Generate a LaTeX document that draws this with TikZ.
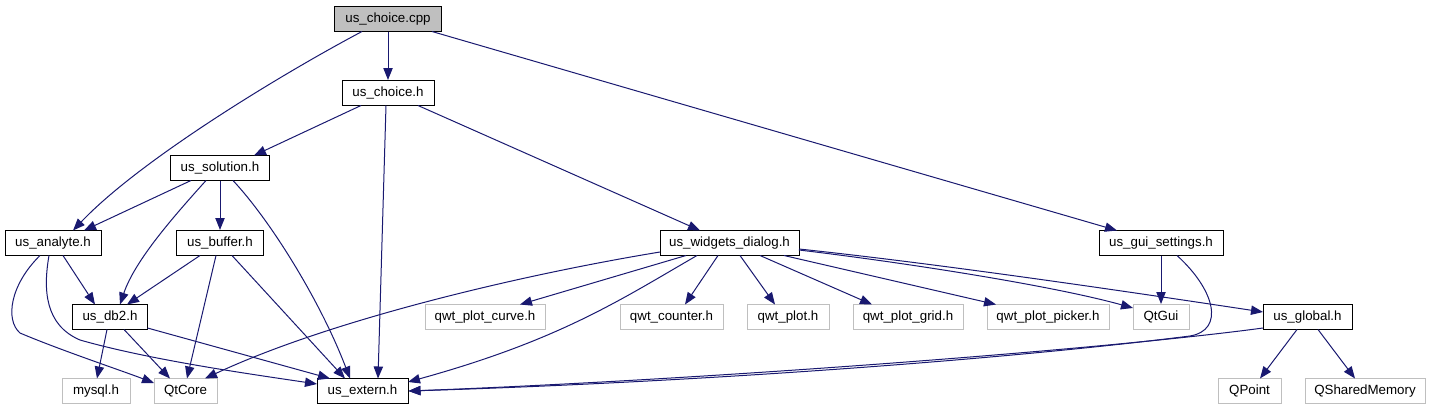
\documentclass[tikz,border=0pt]{standalone}
\usepackage{fontspec}
\setmainfont{Liberation Sans}
\usetikzlibrary{arrows.meta}
\definecolor{edgeblue}{RGB}{25,25,112}
\definecolor{rootfill}{RGB}{191,191,191}
\definecolor{extgray}{RGB}{191,191,191}
\begin{document}
\begin{tikzpicture}[x=0.75pt,y=-0.75pt,
  box/.style={draw=black,line width=0.75pt,fill=white,minimum height=18.75pt,inner sep=0pt,font=\fontsize{10}{12}\selectfont},
  rootbox/.style={box,fill=rootfill},
  extbox/.style={box,draw=extgray},
  dep/.style={draw=edgeblue,line width=0.75pt,-{Triangle[length=9pt,width=7pt]}}]
\useasboundingbox (0,0) rectangle (1431,411);
% nodes
\node[rootbox,minimum width=80.25pt] (cpp) at (388,19) {us\_choice.cpp};
\node[box,minimum width=69pt] (choiceh) at (388,93) {us\_choice.h};
\node[box,minimum width=74.25pt] (solution) at (220,168) {us\_solution.h};
\node[box,minimum width=72pt] (analyte) at (53,243) {us\_analyte.h};
\node[box,minimum width=65.25pt] (buffer) at (220,243) {us\_buffer.h};
\node[box,minimum width=56.25pt] (db2) at (110,317) {us\_db2.h};
\node[extbox,minimum width=51pt] (mysql) at (96,391) {mysql.h};
\node[extbox,minimum width=47.25pt] (qtcore) at (185.5,391) {QtCore};
\node[box,minimum width=68.25pt] (extern) at (362.5,391) {us\_extern.h};
\node[box,minimum width=104.25pt] (widgets) at (729.5,243) {us\_widgets\_dialog.h};
\node[extbox,minimum width=90pt] (curve) at (485,317) {qwt\_plot\_curve.h};
\node[extbox,minimum width=77.25pt] (counter) at (671.5,317) {qwt\_counter.h};
\node[extbox,minimum width=61.5pt] (plot) at (788,317) {qwt\_plot.h};
\node[extbox,minimum width=82.5pt] (grid) at (908,317) {qwt\_plot\_grid.h};
\node[extbox,minimum width=91.5pt] (picker) at (1048,317) {qwt\_plot\_picker.h};
\node[extbox,minimum width=42pt] (qtgui) at (1161,317) {QtGui};
\node[box,minimum width=93pt] (gui) at (1161,243) {us\_gui\_settings.h};
\node[box,minimum width=66.75pt] (global) at (1307.5,317) {us\_global.h};
\node[extbox,minimum width=47.25pt] (qpoint) at (1249.5,391) {QPoint};
\node[extbox,minimum width=90pt] (qshared) at (1365,391) {QSharedMemory};
% edges
\draw[dep] (cpp.south) -- (choiceh.north);
\draw[dep] ([shift={(-26,12.5)}]cpp.center) .. controls (280,75) and (140,160) .. ([shift={(20,-12.5)}]analyte.center);
\draw[dep] ([shift={(44,12.5)}]cpp.center) -- ([shift={(-44,-12.5)}]gui.center);
\draw[dep] ([shift={(-27,12.5)}]choiceh.center) -- ([shift={(34,-12.5)}]solution.center);
\draw[dep] ([shift={(-2,12.5)}]choiceh.center) -- ([shift={(15.5,-12.5)}]extern.center);
\draw[dep] ([shift={(30,12.5)}]choiceh.center) -- ([shift={(-29.5,-12.5)}]widgets.center);
\draw[dep] ([shift={(-29,12.5)}]solution.center) -- ([shift={(31,-12.5)}]analyte.center);
\draw[dep] (solution.south) -- (buffer.north);
\draw[dep] ([shift={(-14,12.5)}]solution.center) .. controls (175,215) and (135,260) .. ([shift={(10,-12.5)}]db2.center);
\draw[dep] ([shift={(13,12.5)}]solution.center) .. controls (270,220) and (320,300) .. ([shift={(-12.5,-12.5)}]extern.center);
\draw[dep] ([shift={(10,12.5)}]analyte.center) -- ([shift={(-15,-12.5)}]db2.center);
\draw[dep] ([shift={(-13,12.5)}]analyte.center) .. controls (10,285) and (5,320) .. (20,333) .. controls (60,350) and (120,370) .. ([shift={(-31.5,-8)}]qtcore.center);
\draw[dep] ([shift={(-4,12.5)}]analyte.center) .. controls (43,290) and (45,325) .. (80,340) .. controls (150,360) and (250,374) .. ([shift={(-45.5,-7)}]extern.center);
\draw[dep] ([shift={(-20,12.5)}]buffer.center) -- ([shift={(17,-12.5)}]db2.center);
\draw[dep] ([shift={(-4,12.5)}]buffer.center) -- ([shift={(1.5,-12.5)}]qtcore.center);
\draw[dep] ([shift={(12,12.5)}]buffer.center) -- ([shift={(-17.5,-12.5)}]extern.center);
\draw[dep] ([shift={(-3,12.5)}]db2.center) -- ([shift={(1,-12.5)}]mysql.center);
\draw[dep] ([shift={(14,12.5)}]db2.center) -- ([shift={(-15.5,-12.5)}]qtcore.center);
\draw[dep] ([shift={(37.5,11)}]db2.center) -- ([shift={(-32.5,-12.5)}]extern.center);
\draw[dep] ([shift={(-69.5,9)}]widgets.center) .. controls (520,275) and (330,320) .. ([shift={(19.5,-12.5)}]qtcore.center);
\draw[dep] ([shift={(-32.5,12.5)}]widgets.center) .. controls (620,300) and (560,340) .. ([shift={(45.5,-9)}]extern.center);
\draw[dep] ([shift={(-43.5,12.5)}]widgets.center) -- ([shift={(35,-12.5)}]curve.center);
\draw[dep] ([shift={(-11.5,12.5)}]widgets.center) -- ([shift={(13.5,-12.5)}]counter.center);
\draw[dep] ([shift={(10.5,12.5)}]widgets.center) -- ([shift={(-13,-12.5)}]plot.center);
\draw[dep] ([shift={(30.5,12.5)}]widgets.center) -- ([shift={(-36,-12.5)}]grid.center);
\draw[dep] ([shift={(54.5,12.5)}]widgets.center) -- ([shift={(-52,-12.5)}]picker.center);
\draw[dep] ([shift={(69.5,7)}]widgets.center) .. controls (900,262) and (1050,285) .. ([shift={(-28,-9)}]qtgui.center);
\draw[dep] ([shift={(69.5,6)}]widgets.center) .. controls (950,265) and (1150,295) .. ([shift={(-44.5,-5)}]global.center);
\draw[dep] (gui.south) -- (qtgui.north);
\draw[dep] ([shift={(16,12.5)}]gui.center) .. controls (1215,290) and (1225,330) .. (1190,336) .. controls (1000,360) and (700,382) .. (extern.east);
\draw[dep] ([shift={(-44.5,11)}]global.center) .. controls (1100,350) and (700,380) .. (extern.east);
\draw[dep] ([shift={(-10.5,12.5)}]global.center) -- ([shift={(10.5,-12.5)}]qpoint.center);
\draw[dep] ([shift={(10.5,12.5)}]global.center) -- ([shift={(-10,-12.5)}]qshared.center);
\end{tikzpicture}
\end{document}
